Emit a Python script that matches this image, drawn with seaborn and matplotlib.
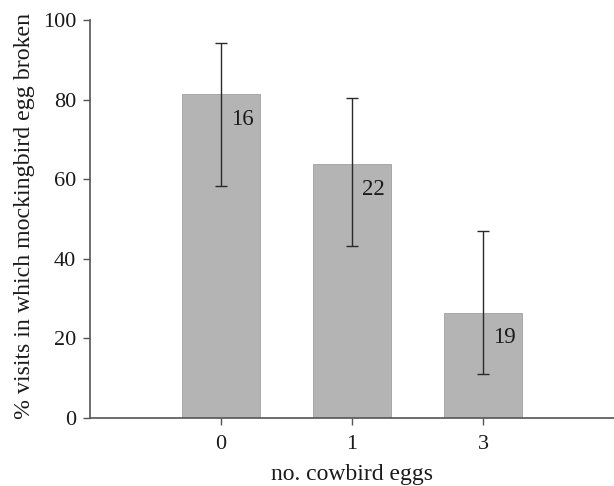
import matplotlib
matplotlib.use("Agg")
import matplotlib.pyplot as plt
import numpy as np
import pandas as pd
import seaborn as sns

# data
eggs = ["0", "1", "3"]
pct_broken = [81.4, 63.8, 26.5]
err_low = [58.2, 43.1, 11.1]
err_high = [94.2, 80.3, 47.1]
n_visits = ["16", "22", "19"]

sns.set_style("ticks")
plt.rcParams["font.family"] = ["Liberation Serif", "DejaVu Serif"]

df = pd.DataFrame({"eggs": eggs, "pct": pct_broken})

fig = plt.figure(figsize=(6.14, 4.86), dpi=100)
ax = fig.add_axes([0.1466, 0.14, 0.8534, 0.8188])

sns.barplot(data=df, x="eggs", y="pct", order=eggs, color="#b4b4b5",
            saturation=1, width=0.6, edgecolor="#a0a0a0", linewidth=0.6,
            errorbar=None, ax=ax)

pos = np.arange(len(eggs))
vals = np.array(pct_broken)
yerr = [vals - np.array(err_low), np.array(err_high) - vals]
ax.errorbar(pos, vals, yerr=yerr, fmt="none", ecolor="#2a2a2a",
            elinewidth=1.0, capsize=4.5, capthick=1.0)

for x, v, lab in zip(pos, pct_broken, n_visits):
    ax.annotate(lab, xy=(x, v), xytext=(7, -18), textcoords="offset points",
                ha="left", va="center", fontsize=16.5, color="#1a1a1a")

ax.set_xlim(-1, 3)
ax.set_ylim(0, 100)
ax.set_yticks([0, 20, 40, 60, 80, 100])
ax.set_xlabel("no. cowbird eggs", fontsize=17, color="#1a1a1a")
ax.set_ylabel("% visits in which mockingbird egg broken", fontsize=17.2,
              color="#1a1a1a")
ax.xaxis.set_label_coords(0.5, -0.116)
ax.yaxis.set_label_coords(-0.105, 0.507)
ax.tick_params(axis="both", labelsize=16, colors="#1a1a1a", length=5,
               width=1.0, color="#555555")
ax.tick_params(axis="x", pad=7)
ax.tick_params(axis="y", pad=5)
sns.despine(ax=ax)
for s in ["left", "bottom"]:
    ax.spines[s].set_color("#555555")
    ax.spines[s].set_linewidth(1.2)

fig.savefig("out.png", dpi=100)
